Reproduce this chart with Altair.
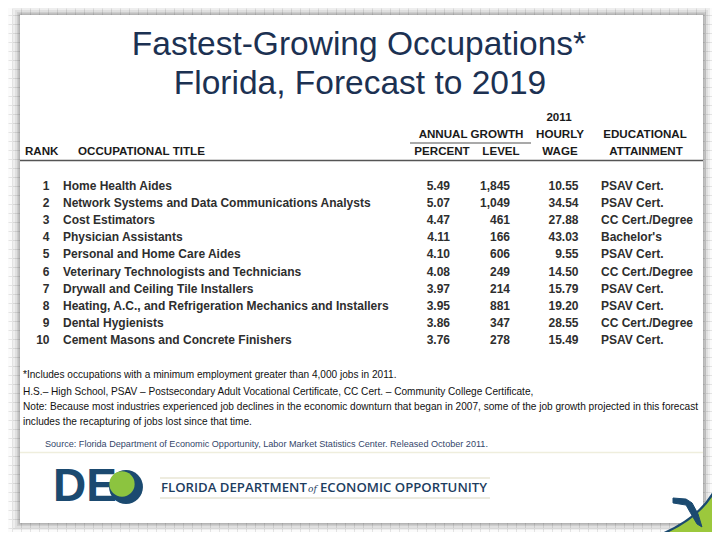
import altair as alt
import pandas as pd

# ---------------- data ----------------
ranks = [1, 2, 3, 4, 5, 6, 7, 8, 9, 10]
titles = [
    "Home Health Aides",
    "Network Systems and Data Communications Analysts",
    "Cost Estimators",
    "Physician Assistants",
    "Personal and Home Care Aides",
    "Veterinary Technologists and Technicians",
    "Drywall and Ceiling Tile Installers",
    "Heating, A.C., and Refrigeration Mechanics and Installers",
    "Dental Hygienists",
    "Cement Masons and Concrete Finishers",
]
growth_pct = [5.49, 5.07, 4.47, 4.11, 4.10, 4.08, 3.97, 3.95, 3.86, 3.76]
growth_level = [1845, 1049, 461, 166, 606, 249, 214, 881, 347, 278]
hourly_wage = [10.55, 34.54, 27.88, 43.03, 9.55, 14.50, 15.79, 19.20, 28.55, 15.49]
education = [
    "PSAV Cert.", "PSAV Cert.", "CC Cert./Degree", "Bachelor's", "PSAV Cert.",
    "CC Cert./Degree", "PSAV Cert.", "PSAV Cert.", "CC Cert./Degree", "PSAV Cert.",
]

title_lines = ["Fastest-Growing Occupations*", "Florida, Forecast to 2019"]
footnotes = [
    "*Includes occupations with a minimum employment greater than 4,000 jobs in 2011.",
    "H.S.\u2013 High School, PSAV \u2013 Postsecondary Adult Vocational Certificate, CC Cert. \u2013 Community College Certificate,",
    "Note:  Because most industries experienced job declines in the economic downturn that began in 2007, some of the job growth projected in this forecast",
    "includes the recapturing of jobs lost since that time.",
]
source = "Source:  Florida Department of Economic Opportunity, Labor Market Statistics Center.  Released October 2011."

df = pd.DataFrame({
    "rank": ranks, "title": titles, "pct": growth_pct, "level": growth_level,
    "wage": hourly_wage, "edu": education,
})

# ---------------- layout helpers ----------------
W, H = 704, 524
one = pd.DataFrame({"k": [0]})
FONT = "Liberation Sans"


def px(v):
    return v - 8


def txt(s, x, y, size=12, weight="normal", align="left", color="#222222",
        font=FONT, style="normal", **kw):
    return alt.Chart(one).mark_text(
        text=s, fontSize=size, fontWeight=weight, align=align, baseline="middle",
        color=color, font=font, fontStyle=style, **kw
    ).encode(x=alt.value(px(x)), y=alt.value(px(y)))


def rect(x1, y1, x2, y2, color, opacity=1.0):
    return alt.Chart(one).mark_rect(color=color, opacity=opacity).encode(
        x=alt.value(px(x1)), x2=alt.value(px(x2)),
        y=alt.value(px(y1)), y2=alt.value(px(y2)))


def hline(x1, x2, y, color, width=1.0):
    return alt.Chart(one).mark_rule(color=color, strokeWidth=width).encode(
        x=alt.value(px(x1)), x2=alt.value(px(x2)), y=alt.value(px(y)))


layers = []

# background grid (paper)
grid = alt.Chart(one).mark_point(opacity=0).encode(
    x=alt.X(datum=10, type="quantitative",
            scale=alt.Scale(domain=[0, W], nice=False, zero=False),
            axis=alt.Axis(values=list(range(4, W, 9)), grid=True, labels=False,
                          ticks=False, domain=False, title=None,
                          gridColor="#e3e3e3", gridWidth=1)),
    y=alt.Y(datum=10, type="quantitative",
            scale=alt.Scale(domain=[0, H], nice=False, zero=False),
            axis=alt.Axis(values=list(range(4, H, 9)), grid=True, labels=False,
                          ticks=False, domain=False, title=None,
                          gridColor="#e3e3e3", gridWidth=1)),
)
layers.append(grid)

# card shadow + card
for d, op in [(7, 0.05), (5, 0.06), (3, 0.08), (1.5, 0.12)]:
    layers.append(rect(20 - d, 15 - d, 703 + d, 523 + d, "#000000", op))
layers.append(rect(20, 15, 703, 523, "#ffffff"))

# title
TITLE_C = "#1c3152"
layers.append(txt(title_lines[0], 359, 45, size=33.5, color=TITLE_C, align="center"))
layers.append(txt(title_lines[1], 360, 84, size=33.5, color=TITLE_C, align="center"))

# table header
HC = "#1a1a1a"
HS = 11.6
layers += [
    txt("2011", 559, 118, size=HS, weight="bold", align="center", color=HC),
    txt("ANNUAL GROWTH", 471, 135, size=HS, weight="bold", align="center", color=HC),
    txt("HOURLY", 560, 135, size=HS, weight="bold", align="center", color=HC),
    txt("EDUCATIONAL", 645, 135, size=HS, weight="bold", align="center", color=HC),
    txt("RANK", 25, 152, size=HS, weight="bold", color=HC),
    txt("OCCUPATIONAL TITLE", 78, 152, size=HS, weight="bold", color=HC),
    txt("PERCENT", 442, 152, size=HS, weight="bold", align="center", color=HC),
    txt("LEVEL", 501, 152, size=HS, weight="bold", align="center", color=HC),
    txt("WAGE", 560, 152, size=HS, weight="bold", align="center", color=HC),
    txt("ATTAINMENT", 646, 152, size=HS, weight="bold", align="center", color=HC),
    hline(410, 531, 143, "#555555", 1.2),
    hline(20, 703, 160.5, "#555555", 1.6),
]

# table body
yscale = alt.Scale(domain=[1, 10], range=[px(186), px(340)], nice=False, zero=False)
BC = "#2e2e2e"
BS = 12


def col(field, x, align, fmt=None):
    text = alt.Text(field, format=fmt) if fmt else alt.Text(field)
    return alt.Chart(df).mark_text(
        align=align, baseline="middle", font=FONT, fontWeight="bold",
        fontSize=BS, color=BC
    ).encode(x=alt.value(px(x)),
             y=alt.Y("rank:Q", scale=yscale, axis=None),
             text=text)


layers += [
    col("rank:Q", 49.5, "right"),
    col("title:N", 63, "left"),
    col("pct:Q", 450, "right", ".2f"),
    col("level:Q", 510, "right", ","),
    col("wage:Q", 578.5, "right", ".2f"),
    col("edu:N", 601, "left"),
]

# footnotes
for s, y in zip(footnotes, [375, 392, 407, 422]):
    layers.append(txt(s, 23, y, size=10.1, color="#111111"))
layers.append(txt(source, 45, 444, size=9.1, color="#34466a"))
layers.append(hline(20, 703, 452.5, "#efeedd", 1.5))

# logo
NAVY = "#1b4a70"
layers.append(txt("DE", 53, 487, size=46, weight="bold", color=NAVY, font=FONT))
layers.append(alt.Chart(one).mark_point(shape="circle", filled=True, color=NAVY,
                                        size=1150, opacity=1)
              .encode(x=alt.value(px(126)), y=alt.value(px(487))))
layers.append(alt.Chart(one).mark_point(shape="circle", filled=True, color="#8cc43f",
                                        size=640, opacity=1)
              .encode(x=alt.value(px(122)), y=alt.value(px(484))))
layers.append(hline(160, 490, 478, "#ddd9bf", 1))
layers.append(hline(160, 490, 498, "#d9d6c0", 1))
layers += [
    txt("FLORIDA DEPARTMENT", 161, 488, size=13.2, weight=600, color="#1d3d60",
        font="Open Sans"),
    txt("of", 308, 489, size=9, style="italic", color="#1d3d60", font="DejaVu Serif"),
    txt("ECONOMIC OPPORTUNITY", 320, 488, size=13.2, weight=600, color="#1d3d60",
        font="Open Sans"),
]

# swoosh bottom-right
swoosh_path = "M 0.74 -0.72 Q 0.56 0.3 -0.95 0.76 L 0.9 0.9 Z"
layers.append(alt.Chart(one).mark_point(
    shape=swoosh_path, size=10000, fill="#9cc83c", stroke=NAVY, strokeWidth=2.2,
    fillOpacity=1, strokeOpacity=1, opacity=1
).encode(x=alt.value(px(685)), y=alt.value(px(505))))
florida_path = ("M -1 -1 L -0.13 -0.93 L 0.27 -0.67 L 0.67 0.07 L 0.93 0.93 "
                "L 0.6 0.73 L 0.13 -0.07 L -0.13 -0.53 L -1 -0.67 Z")
layers.append(alt.Chart(one).mark_point(
    shape=florida_path, size=900, fill=NAVY, stroke=NAVY, strokeWidth=1,
    fillOpacity=1, opacity=1
).encode(x=alt.value(px(688)), y=alt.value(px(513))))

chart = alt.layer(*layers).resolve_scale(
    x="independent", y="independent"
).properties(
    width=W, height=H, padding=0, autosize=alt.AutoSizeParams(type="none"),
    background="#fbfbfb"
).configure_view(strokeWidth=0)

chart.save("out.html", embed_options={"renderer": "svg", "actions": False})
